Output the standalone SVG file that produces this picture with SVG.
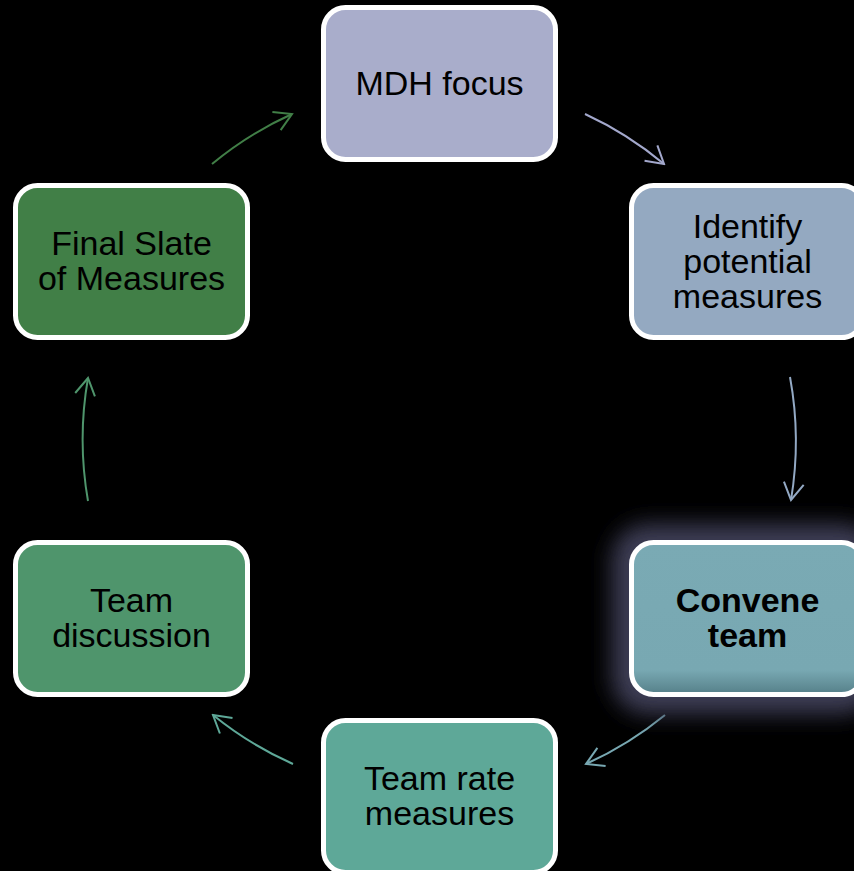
<svg xmlns="http://www.w3.org/2000/svg" width="854" height="871" viewBox="0 0 854 871">
<style>
.node{stroke:#FFFFFF;stroke-width:5}
.lbl{font-family:"Liberation Sans",Arial,sans-serif;font-size:34px;fill:#000;text-anchor:middle}
.bold{font-weight:bold}
.conn{fill:none;stroke-width:2}
</style>
<defs>
<marker id="m1" markerUnits="userSpaceOnUse" viewBox="-20 -12 22 24" markerWidth="22" markerHeight="24" refX="0" refY="0" orient="auto"><path d="M-17,-10 L0,0 L-17,10" fill="none" stroke="#A3A8CC" stroke-width="2"/></marker>
<marker id="m2" markerUnits="userSpaceOnUse" viewBox="-20 -12 22 24" markerWidth="22" markerHeight="24" refX="0" refY="0" orient="auto"><path d="M-17,-10 L0,0 L-17,10" fill="none" stroke="#93A9C4" stroke-width="2"/></marker>
<marker id="m3" markerUnits="userSpaceOnUse" viewBox="-20 -12 22 24" markerWidth="22" markerHeight="24" refX="0" refY="0" orient="auto"><path d="M-17,-10 L0,0 L-17,10" fill="none" stroke="#78A8B2" stroke-width="2"/></marker>
<marker id="m4" markerUnits="userSpaceOnUse" viewBox="-20 -12 22 24" markerWidth="22" markerHeight="24" refX="0" refY="0" orient="auto"><path d="M-17,-10 L0,0 L-17,10" fill="none" stroke="#5EA898" stroke-width="2"/></marker>
<marker id="m5" markerUnits="userSpaceOnUse" viewBox="-20 -12 22 24" markerWidth="22" markerHeight="24" refX="0" refY="0" orient="auto"><path d="M-17,-10 L0,0 L-17,10" fill="none" stroke="#4F956C" stroke-width="2"/></marker>
<marker id="m6" markerUnits="userSpaceOnUse" viewBox="-20 -12 22 24" markerWidth="22" markerHeight="24" refX="0" refY="0" orient="auto"><path d="M-17,-10 L0,0 L-17,10" fill="none" stroke="#417F47" stroke-width="2"/></marker>
<filter id="glow" x="-30%" y="-40%" width="160%" height="180%"><feGaussianBlur stdDeviation="11"/></filter>
<linearGradient id="convGrad" x1="0" y1="0" x2="0" y2="1">
<stop offset="0" stop-color="#7AAAB4"/>
<stop offset="0.84" stop-color="#78A8B2"/>
<stop offset="1" stop-color="#557F88"/>
</linearGradient>
</defs>
<rect x="0" y="0" width="854" height="871" fill="#000000"/>
<g id="connectors">
<path class="conn" stroke="#A3A8CC" marker-end="url(#m1)" d="M585,114 A356,356 0 0 1 664,164"/>
<path class="conn" stroke="#93A9C4" marker-end="url(#m2)" d="M790,377 A356,356 0 0 1 791,500"/>
<path class="conn" stroke="#78A8B2" marker-end="url(#m3)" d="M665,715 A356,356 0 0 1 586,764"/>
<path class="conn" stroke="#5EA898" marker-end="url(#m4)" d="M293,764 A356,356 0 0 1 213,715"/>
<path class="conn" stroke="#4F956C" marker-end="url(#m5)" d="M88,501 A356,356 0 0 1 88,378"/>
<path class="conn" stroke="#417F47" marker-end="url(#m6)" d="M212,164 A356,356 0 0 1 292,114"/>
</g>
<g id="node-mdh">
<rect class="node" x="323.5" y="7.5" width="232" height="152" rx="22" fill="#A9ADCB"/>
<text class="lbl" x="439.5" y="95">MDH focus</text>
</g>
<g id="node-identify">
<rect class="node" x="631.5" y="185.5" width="232" height="152" rx="22" fill="#94A9C1"/>
<text class="lbl" x="747.5" y="238">Identify</text>
<text class="lbl" x="747.5" y="273">potential</text>
<text class="lbl" x="747.5" y="308">measures</text>
</g>
<g id="node-convene">
<rect x="612" y="524" width="266" height="190" rx="36" fill="#3C3C55" filter="url(#glow)"/>
<rect class="node" x="631.5" y="542.5" width="232" height="152" rx="22" fill="url(#convGrad)"/>
<text class="lbl bold" x="747.5" y="612">Convene</text>
<text class="lbl bold" x="747.5" y="647">team</text>
</g>
<g id="node-rate">
<rect class="node" x="323.5" y="720.5" width="232" height="152" rx="22" fill="#5EA898"/>
<text class="lbl" x="439.5" y="790">Team rate</text>
<text class="lbl" x="439.5" y="825">measures</text>
</g>
<g id="node-discussion">
<rect class="node" x="15.5" y="542.5" width="232" height="152" rx="22" fill="#4F956C"/>
<text class="lbl" x="131.5" y="612">Team</text>
<text class="lbl" x="131.5" y="647">discussion</text>
</g>
<g id="node-final">
<rect class="node" x="15.5" y="185.5" width="232" height="152" rx="22" fill="#417F47"/>
<text class="lbl" x="131.5" y="255">Final Slate</text>
<text class="lbl" x="131.5" y="290">of Measures</text>
</g>
</svg>
